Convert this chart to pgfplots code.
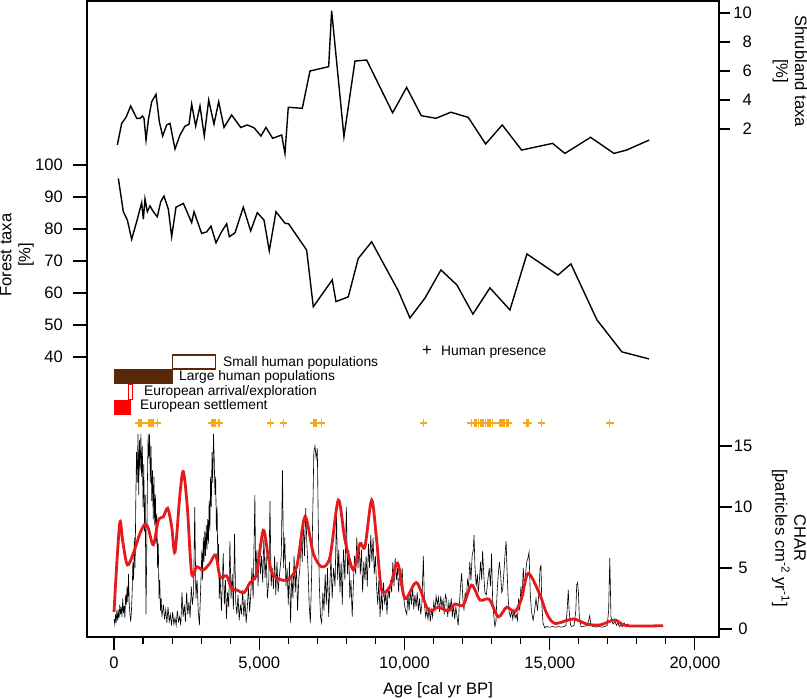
\documentclass[border=0pt]{standalone}
\usepackage{fontspec}
\setmainfont{Liberation Sans}
\usepackage{pgfplots}
\pgfplotsset{compat=1.18}
\definecolor{charred}{RGB}{228,26,28}
\definecolor{hpor}{RGB}{246,168,24}
\definecolor{brownd}{RGB}{88,40,8}
\newcommand{\bigf}{\fontsize{16.6}{19}\selectfont}
\newcommand{\smallf}{\fontsize{13.8}{16}\selectfont}
\begin{document}
\begin{tikzpicture}[x=1pt,y=1pt]
\useasboundingbox (0,0) rectangle (807,699);
\pgfplotsset{
  base/.style={width=632pt,height=636pt,scale only axis,at={(87pt,62pt)},anchor=south west,
   xmin=-930,xmax=20830, tick align=outside, minor tick length=7pt,
   every tick/.style={line width=1.2pt,black},
   every tick label/.append style={font=\bigf},
   scaled x ticks=false, scaled y ticks=false,
   /pgf/number format/assume math mode=true, /pgf/number format/1000 sep={,}},
}
% ---------- CHAR (main frame) ----------
\begin{axis}[base, ymin=-0.656, ymax=51.48, axis line style={line width=1.4pt},
  major tick length=13pt,
  xtick={0,5000,10000,15000,20000}, minor x tick num=4, xtick pos=bottom,
  ytick={0,5,10,15}, ytick pos=right, yticklabel pos=right,
  xticklabel style={inner sep=0pt, yshift=-7pt},
  yticklabel style={anchor=center, inner sep=0pt, xshift=11pt},
  ]
\addplot[black, line width=0.6pt] coordinates {
(0,0.8)(25,0.4)(50,1.2)(75,0.5)(100,1.6)(125,0.7)(150,1.4)(175,0.9)(200,2.0)(225,1.2)(250,1.8)(275,1.0)(300,2.5)(325,1.3)(350,1.9)(375,0.9)(400,2.8)(425,2.0)(450,3.5)(475,2.2)(500,4.5)(525,2.0)(550,1.2)(575,0.6)(600,1.5)(625,3.0)(650,5.5)(675,4.0)(700,7.5)(725,5.0)(750,10.5)(775,14.5)(800,12.0)(825,16.0)(850,11.0)(875,15.5)(900,13.0)(925,16.0)(950,12.5)(975,15.0)(1000,10.0)(1025,13.5)(1050,8.0)(1075,11.0)(1100,1.2)(1125,6.0)(1150,12.0)(1175,16.0)(1200,14.0)(1225,16.0)(1250,12.0)(1275,15.0)(1300,10.5)(1325,13.0)(1350,9.0)(1375,12.5)(1400,8.5)(1425,11.0)(1450,7.0)(1475,9.5)(1500,5.0)(1525,7.0)(1550,2.5)(1575,4.0)(1600,1.5)(1625,2.5)(1650,1.0)(1700,2.0)(1740,0.8)(1780,1.6)(1820,0.5)(1860,1.8)(1900,0.6)(1940,1.2)(1980,0.3)(2020,1.4)(2060,0.4)(2100,0.9)(2140,0.3)(2180,1.5)(2220,0.6)(2260,1.0)(2300,0.3)(2340,3.0)(2380,1.0)(2420,2.0)(2460,0.6)(2500,3.0)(2540,1.2)(2580,2.2)(2620,0.9)(2660,3.5)(2700,2.0)(2740,3.0)(2780,10.0)(2820,2.5)(2860,4.0)(2900,1.5)(2940,0.3)(2980,3.0)(3000,4.5)(3025,6.5)(3050,4.0)(3075,7.5)(3100,5.5)(3125,8.0)(3150,6.0)(3175,8.5)(3200,6.5)(3225,9.0)(3250,7.0)(3275,10.5)(3300,8.0)(3325,12.5)(3350,10.0)(3375,14.5)(3400,12.0)(3425,16.0)(3450,14.0)(3475,11.0)(3500,12.5)(3525,8.0)(3550,10.0)(3575,5.0)(3600,7.0)(3625,2.5)(3650,4.5)(3700,1.5)(3760,6.2)(3800,2.0)(3840,4.0)(3870,0.8)(3910,3.0)(3950,1.8)(3990,7.2)(4030,2.5)(4070,4.5)(4110,1.6)(4150,7.8)(4190,2.2)(4230,1.2)(4270,2.8)(4310,0.7)(4350,2.0)(4390,1.2)(4430,3.2)(4470,1.0)(4510,2.4)(4550,0.5)(4590,1.8)(4630,3.5)(4670,1.4)(4710,2.9)(4750,5.0)(4790,2.5)(4850,11.0)(4880,4.0)(4920,6.5)(4960,3.5)(5000,7.0)(5040,4.5)(5080,6.0)(5120,3.8)(5160,7.5)(5200,4.2)(5240,6.0)(5280,2.5)(5330,4.0)(5370,10.5)(5410,3.5)(5450,5.0)(5490,3.3)(5530,6.0)(5570,2.8)(5610,5.5)(5650,3.0)(5700,4.5)(5760,6.0)(5800,13.0)(5840,5.0)(5880,7.5)(5920,3.5)(5960,5.0)(6000,2.0)(6040,5.5)(6080,0.5)(6120,4.5)(6160,2.5)(6200,6.0)(6240,3.0)(6280,5.5)(6320,1.5)(6360,4.0)(6400,5.0)(6440,8.0)(6480,5.5)(6520,9.0)(6560,6.0)(6600,9.9)(6640,7.0)(6680,5.0)(6720,2.0)(6760,0.5)(6800,4.0)(6840,9.0)(6880,14.5)(6920,15.0)(6960,14.0)(7000,14.8)(7030,9.0)(7070,3.5)(7110,1.0)(7150,0.5)(7190,3.0)(7230,1.5)(7270,4.5)(7310,2.0)(7350,5.0)(7390,1.0)(7430,3.5)(7470,6.0)(7510,2.5)(7560,5.0)(7610,3.5)(7660,9.7)(7700,4.0)(7740,6.5)(7780,3.0)(7820,5.5)(7860,2.0)(7900,6.5)(7950,4.0)(8000,10.0)(8040,4.5)(8080,6.5)(8120,2.5)(8160,4.0)(8200,1.0)(8240,3.5)(8280,6.0)(8320,4.5)(8360,7.5)(8400,5.0)(8440,7.0)(8480,4.5)(8520,6.5)(8560,3.0)(8600,5.5)(8640,4.0)(8680,6.0)(8720,3.5)(8760,7.0)(8800,5.0)(8840,7.7)(8880,5.5)(8920,7.5)(8960,4.5)(9000,6.0)(9040,3.5)(9080,2.0)(9120,4.0)(9160,1.0)(9200,3.0)(9240,1.5)(9280,3.8)(9320,2.0)(9360,3.0)(9400,1.2)(9440,3.5)(9480,2.5)(9520,4.0)(9560,3.0)(9600,5.5)(9640,3.5)(9680,5.8)(9720,4.0)(9760,5.0)(9800,3.0)(9840,5.0)(9880,3.5)(9920,5.0)(9960,3.0)(10000,2.0)(10040,1.5)(10080,1.2)(10120,2.8)(10160,1.5)(10200,3.2)(10240,2.0)(10280,3.5)(10320,1.6)(10360,2.8)(10400,1.8)(10440,3.0)(10480,1.5)(10520,2.5)(10560,1.2)(10600,2.0)(10650,6.0)(10690,2.0)(10730,1.0)(10770,1.5)(10810,0.8)(10850,1.8)(10890,0.6)(10930,1.6)(10970,1.0)(11010,2.2)(11050,1.5)(11090,2.7)(11130,2.0)(11170,2.6)(11210,1.4)(11250,2.7)(11290,1.8)(11330,2.4)(11370,1.2)(11410,2.8)(11450,2.5)(11490,1.0)(11530,2.2)(11570,1.5)(11610,2.5)(11650,1.0)(11690,2.0)(11730,0.8)(11770,1.8)(11810,1.0)(11850,0.3)(11890,2.0)(11930,3.5)(11970,4.6)(12010,2.5)(12050,1.5)(12090,3.0)(12130,2.3)(12170,4.0)(12210,3.5)(12250,5.5)(12290,4.0)(12330,6.0)(12370,6.5)(12395,7.7)(12430,5.0)(12470,3.5)(12510,4.5)(12540,3.0)(12580,4.0)(12620,5.5)(12660,4.0)(12690,6.4)(12730,4.5)(12770,3.0)(12820,2.8)(12870,4.0)(12920,5.0)(12960,3.5)(13000,6.2)(13040,2.0)(13080,1.0)(13115,0.2)(13150,0.6)(13190,3.0)(13230,4.5)(13270,5.5)(13310,4.5)(13350,3.0)(13380,3.2)(13420,4.5)(13460,6.0)(13500,7.2)(13530,5.0)(13570,2.5)(13610,1.3)(13650,1.0)(13690,1.5)(13730,0.8)(13770,1.6)(13810,0.9)(13850,1.2)(13890,0.7)(13930,2.5)(13970,1.5)(14010,3.5)(14050,2.5)(14090,5.0)(14130,3.5)(14170,4.5)(14210,5.5)(14250,5.8)(14290,6.3)(14330,3.0)(14370,1.5)(14430,0.7)(14480,1.5)(14530,2.5)(14580,1.5)(14630,3.0)(14670,5.0)(14700,5.2)(14730,2.0)(14770,0.5)(14830,0.1)(14900,0.2)(15000,0.15)(15100,0.2)(15200,0.15)(15300,0.2)(15400,0.15)(15500,0.2)(15560,0.3)(15600,1.5)(15640,3.2)(15670,1.5)(15720,0.3)(15760,0.2)(15840,0.3)(15900,1.5)(15930,3.6)(15960,3.8)(15990,3.0)(16020,1.0)(16080,0.2)(16150,0.2)(16300,0.3)(16350,0.8)(16380,1.1)(16420,0.3)(16500,0.2)(16600,0.15)(16700,0.2)(16800,0.15)(16900,0.2)(16980,0.3)(17030,1.5)(17070,5.8)(17110,1.0)(17180,0.4)(17250,0.6)(17300,0.3)(17350,0.5)(17400,0.2)(17450,0.3)(17500,0.2)(17560,0.5)(17620,0.2)(17680,0.4)(17750,0.2)
};
\addplot[charred, line width=2.8pt, smooth, tension=0.5] coordinates {
(0,1.4)(100,5.5)(207,8.8)(300,7.2)(458,5.25)(665,6.2)(895,7.84)(1067,8.6)(1182,8.25)(1354,6.9)(1526,8.9)(1698,9.2)(1847,9.9)(1985,8.4)(2100,6.3)(2272,11.1)(2387,12.9)(2524,10.0)(2673,4.56)(2845,5.1)(3075,4.84)(3304,5.4)(3500,6.07)(3649,4.3)(3878,4.35)(4050,3.3)(4222,3.2)(4475,2.98)(4682,3.8)(4911,4.56)(5140,8.1)(5312,5.9)(5484,4.4)(5943,4.0)(6288,5.1)(6575,9.2)(6862,6.2)(7150,5.1)(7436,5.9)(7723,10.57)(7952,7.3)(8239,4.84)(8468,7.0)(8640,6.75)(8870,10.57)(9042,7.3)(9214,3.2)(9500,3.47)(9764,5.4)(10015,2.5)(10418,3.8)(10818,1.56)(11162,1.78)(11506,1.5)(11738,2.05)(12025,1.97)(12312,3.6)(12599,2.38)(12920,2.43)(13230,1.0)(13517,1.78)(13804,1.42)(14033,2.5)(14263,4.56)(14666,2.8)(14895,1.28)(15181,0.46)(15811,0.82)(16270,0.41)(16730,0.33)(17246,0.74)(17648,0.27)(18910,0.27)
};
\end{axis}
% ---------- Shrubland taxa ----------
\begin{axis}[base, ymin=-33.03, ymax=10.83, hide x axis, axis y line*=right,
  axis line style={line width=1.4pt}, major tick length=11pt,
  ytick={2,4,6,8,10},
  yticklabel style={anchor=east, inner sep=0pt, xshift=22pt}]
\addplot[black, line width=1.4pt] coordinates {
(115,0.9)(264,2.39)(413,2.8)(574,3.59)(780,2.74)(895,2.74)(975,2.9)(1033,2.74)(1102,1.24)(1182,2.62)(1297,3.88)(1446,4.39)(1561,2.5)(1675,1.52)(1813,2.28)(1928,2.39)(2100,0.62)(2272,1.59)(2444,2.2)(2582,2.32)(2674,3.72)(2812,2.2)(2960,3.59)(3108,1.52)(3260,4.0)(3442,2.34)(3604,3.88)(3787,2.11)(4050,2.97)(4362,2.11)(4590,2.28)(4819,2.09)(5060,1.52)(5232,2.11)(5462,1.36)(5772,1.59)(5886,0.32)(6000,3.5)(6483,3.43)(6747,6.0)(7390,6.3)(7493,10.16)(7917,1.47)(8296,6.69)(8698,6.76)(9593,3.12)(10075,4.87)(10580,2.92)(11084,2.74)(11600,3.16)(12197,2.8)(12795,0.97)(13367,2.28)(14033,0.55)(15100,1.01)(15525,0.32)(16409,1.43)(17212,0.32)(17648,0.55)(18427,1.24)
};
\end{axis}
% ---------- Forest taxa ----------
\begin{axis}[base, ymin=-47.5, ymax=151.25, hide x axis, axis y line*=left,
  axis line style={line width=1.4pt}, major tick length=14pt,
  ytick={40,50,...,100},
  yticklabel style={anchor=east, inner sep=0pt, xshift=-10pt}]
\addplot[black, line width=1.4pt] coordinates {
(149,95.8)(321,85.4)(459,82.8)(608,76.8)(780,82.3)(952,88.2)(1010,83.0)(1067,89.4)(1148,85.4)(1239,87.2)(1354,85.4)(1492,83.8)(1607,88.5)(1721,90.3)(1871,86.2)(1985,77.6)(2134,86.8)(2387,88.0)(2674,82.0)(2754,85.4)(3018,78.6)(3191,79.1)(3339,80.9)(3511,75.7)(3707,79.2)(3879,81.6)(3970,77.6)(4165,78.8)(4452,86.8)(4705,79.4)(4933,85.1)(5164,82.8)(5346,73.2)(5577,85.4)(5886,81.8)(6013,81.6)(6633,73.4)(6861,55.7)(7515,64.1)(7642,57.3)(8066,58.8)(8410,70.8)(8870,76.0)(9787,60.7)(10189,52.2)(10706,58.4)(11256,67.2)(11807,62.5)(12358,53.4)(12943,61.6)(13632,54.7)(14217,72.2)(15284,65.6)(15731,69.1)(16627,51.6)(17487,41.6)(18417,39.4)
};
\end{axis}
% ---------- human history rows (y in picture rows) ----------
\begin{axis}[base, ymin=1, ymax=637, y dir=reverse, hide axis, clip=false]
\addplot[draw=brownd, fill=white, line width=1.1pt] coordinates {(2000,355)(3500,355)(3500,369)(2000,369)} -- cycle;
\addplot[draw=brownd, fill=brownd, line width=0.5pt] coordinates {(0,369)(2000,369)(2000,383)(0,383)} -- cycle;
\addplot[draw=red, fill=white, line width=0.9pt] coordinates {(500,384)(640,384)(640,399)(500,399)} -- cycle;
\addplot[draw=red, fill=red, line width=0.5pt] coordinates {(0,400)(560,400)(560,414)(0,414)} -- cycle;
\addplot[only marks, mark=+, mark size=3.8pt, hpor, mark options={line width=1.4pt}] coordinates {
(860,423)(890,423)(920,423)(950,423)(1190,423)(1230,423)(1270,423)(1310,423)(1350,423)(1500,423)
(3380,423)(3410,423)(3440,423)(3470,423)(3500,423)(3620,423)
(5390,423)(5840,423)
(6890,423)(6920,423)(6950,423)(7150,423)
(10650,423)
(12300,423)(12430,423)(12490,423)(12550,423)(12610,423)(12670,423)(12730,423)(12790,423)(12850,423)(12910,423)(12970,423)(13030,423)
(13270,423)(13330,423)(13390,423)(13450,423)(13510,423)(13570,423)
(14200,423)(14260,423)(14720,423)(17070,423)
};
\end{axis}
% ---------- texts ----------
\node[font=\smallf, anchor=west, inner sep=0pt] at (223,{699-362.7}) {Small human populations};
\node[font=\smallf, anchor=west, inner sep=0pt] at (179,{699-377}) {Large human populations};
\node[font=\smallf, anchor=west, inner sep=0pt] at (144,{699-392}) {European arrival/exploration};
\node[font=\smallf, anchor=west, inner sep=0pt] at (140,{699-405.7}) {European settlement};
\node[font=\bigf, inner sep=0pt] at (427,{699-351}) {+};
\node[font=\smallf, anchor=west, inner sep=0pt] at (441,{699-352}) {Human presence};
\node[font=\bigf, rotate=90, align=center] at (17,{699-255}) {Forest taxa\\{[\%]}};
\node[font=\bigf, rotate=-90, align=center] at (790,{699-71}) {Shrubland taxa\\{[\%]}};
\node[font=\bigf, rotate=-90, align=center] at (789,{699-538}) {CHAR\\{[particles cm\textsuperscript{-2} yr\textsuperscript{-1}]}};
\node[font=\bigf] at (438,{699-690}) {Age [cal yr BP]};
\end{tikzpicture}
\end{document}
